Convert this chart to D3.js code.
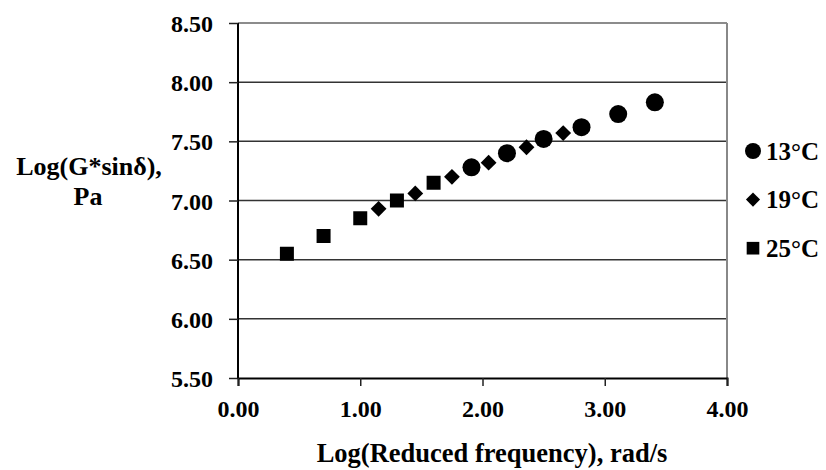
<!DOCTYPE html>
<html><head><meta charset="utf-8">
<script src="https://cdn.jsdelivr.net/npm/d3@7"></script>
<style>
html,body{margin:0;padding:0;background:#fff;}
svg{display:block;}
text{font-family:"Liberation Serif","Times New Roman",Times,serif;}
</style></head>
<body>
<svg id="chart" width="826" height="470"></svg>
<script>
const xTicks = [0, 1, 2, 3, 4];
const yTicks = [5.5, 6.0, 6.5, 7.0, 7.5, 8.0, 8.5];
const seriesNames = ["13°C", "19°C", "25°C"];
const x13 = [1.91, 2.20, 2.50, 2.81, 3.11, 3.41];
const y13 = [7.28, 7.40, 7.52, 7.62, 7.73, 7.83];
const x19 = [1.15, 1.45, 1.75, 2.05, 2.36, 2.66];
const y19 = [6.93, 7.06, 7.20, 7.32, 7.45, 7.57];
const x25 = [0.40, 0.70, 1.00, 1.30, 1.60];
const y25 = [6.55, 6.70, 6.85, 7.00, 7.15];
const xTitle = "Log(Reduced frequency), rad/s";
const yTitle = ["Log(G*sinδ),", "Pa"];

const svg = d3.select("#chart");
const L = 238, R = 727, T = 23, B = 378;
const x = d3.scaleLinear().domain([0, 4]).range([L, R]);
const y = d3.scaleLinear().domain([5.5, 8.5]).range([B, T]);

// gridlines
svg.append("g").selectAll("line").data(yTicks.filter(d => d > 5.5 && d < 8.5)).join("line")
  .attr("x1", L).attr("x2", R).attr("y1", d => y(d)).attr("y2", d => y(d))
  .attr("stroke", "#333").attr("stroke-width", 1.5);
// plot border (top and right)
svg.append("line").attr("x1", L).attr("x2", R).attr("y1", y(8.5)).attr("y2", y(8.5))
  .attr("stroke", "#666").attr("stroke-width", 1.5);
svg.append("line").attr("x1", R).attr("x2", R).attr("y1", T).attr("y2", B)
  .attr("stroke", "#888").attr("stroke-width", 2);

// axes
const yAxis = d3.axisLeft(y).tickValues(yTicks).tickFormat(d3.format(".2f")).tickSize(9).tickPadding(16);
const gy = svg.append("g").attr("transform", `translate(${L},0)`).call(yAxis);
const xAxis = d3.axisBottom(x).tickValues(xTicks).tickFormat(d3.format(".2f")).tickSize(8).tickPadding(14);
const gx = svg.append("g").attr("transform", `translate(0,${B})`).call(xAxis);
[gx, gy].forEach(g => {
  g.select(".domain").attr("stroke", "#000").attr("stroke-width", 2);
  g.selectAll(".tick line").attr("stroke", "#222").attr("stroke-width", 1.5);
  g.selectAll(".tick text").attr("fill", "#000")
    .style("font-family", '"Liberation Serif","Times New Roman",serif')
    .style("font-weight", "bold").style("font-size", "24px");
});
gy.select(".domain").attr("d", `M0,${B}V${T}`);
gy.selectAll(".tick text").attr("dy", "0.36em");

// titles
svg.append("text").attr("x", 492).attr("y", 462).attr("text-anchor", "middle")
  .style("font-weight", "bold").style("font-size", "26.5px").text(xTitle);
svg.append("text").attr("x", 89).attr("y", 175).attr("text-anchor", "middle")
  .style("font-weight", "bold").style("font-size", "26px").text(yTitle[0]);
svg.append("text").attr("x", 88).attr("y", 205).attr("text-anchor", "middle")
  .style("font-weight", "bold").style("font-size", "26px").text(yTitle[1]);

// marks
const symCircle = d3.symbol().type(d3.symbolCircle).size(Math.PI * 81);
const symDiamond = d3.symbol().type(d3.symbolSquare).size(125);
const symSquare = d3.symbol().type(d3.symbolSquare).size(196);
const series = [
  {xs: x13, ys: y13, sym: symCircle, rot: 0},
  {xs: x19, ys: y19, sym: symDiamond, rot: 45},
  {xs: x25, ys: y25, sym: symSquare, rot: 0}
];
series.forEach(s => {
  svg.append("g").selectAll("path").data(s.xs.map((v, i) => [v, s.ys[i]])).join("path")
    .attr("d", s.sym())
    .attr("transform", d => `translate(${x(d[0])},${y(d[1])}) rotate(${s.rot})`)
    .attr("fill", "#000");
});

// legend
const legSyms = [
  {sym: d3.symbol().type(d3.symbolCircle).size(Math.PI * 64), rot: 0},
  {sym: d3.symbol().type(d3.symbolSquare).size(100), rot: 45},
  {sym: d3.symbol().type(d3.symbolSquare).size(160), rot: 0}
];
seriesNames.forEach((name, i) => {
  const cy = 151 + i * 48.6;
  svg.append("path").attr("d", legSyms[i].sym())
    .attr("transform", `translate(753,${cy}) rotate(${legSyms[i].rot})`).attr("fill", "#000");
  svg.append("text").attr("x", 766).attr("y", cy + 8.5)
    .style("font-size", "25px").style("font-weight", "bold").text(name);
});
</script>
</body></html>
